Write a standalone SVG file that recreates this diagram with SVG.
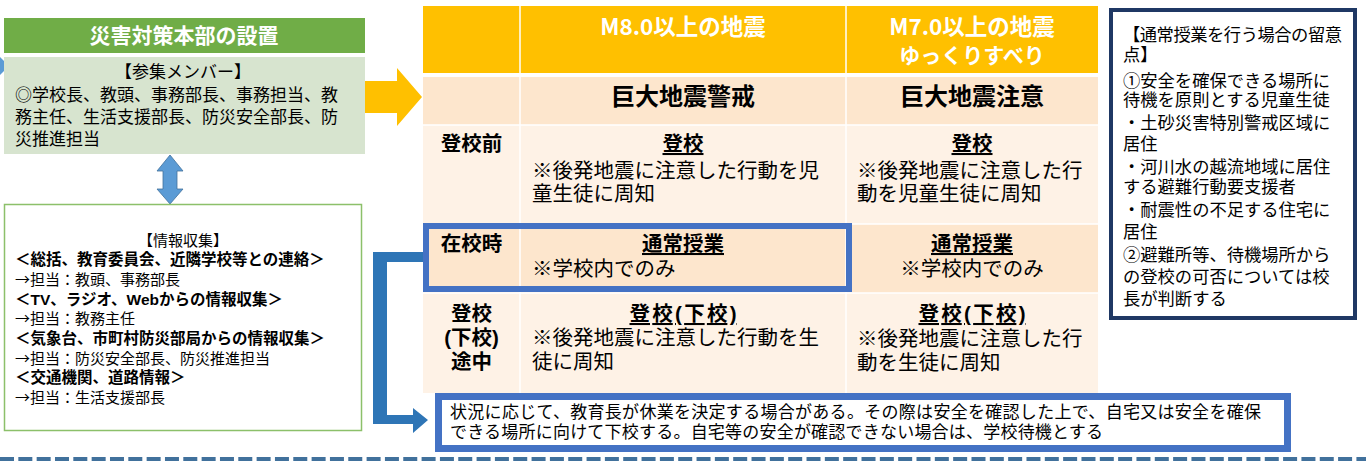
<svg xmlns="http://www.w3.org/2000/svg" width="1366" height="461" viewBox="0 0 1366 461">
<style>
text{font-family:"Liberation Sans","Noto Sans CJK JP",sans-serif;fill:#000}
.jp{font-family:"Noto Sans CJK JP","Liberation Sans",sans-serif}
.b{font-weight:bold}
.w{fill:#fff;font-weight:bold}
.mid{text-anchor:middle}
.u{text-decoration:underline}
.t{font-size:20.5px}
.r{font-size:17.3px}
.i{font-size:15px}
.ib{font-size:15.5px;font-weight:bold}
.hdr{fill:#FFC000}
.pk{fill:#FDE6CD}
.lt{fill:#FEF2E6}
.sep{stroke:#fff;stroke-width:1.5}
</style>
<rect width="1366" height="461" fill="#fff"/>

<g id="connectors">
<polygon points="0,57 9,66 0,75" fill="#5B9BD5"/>
<polygon points="365,81 397,81 397,68 422,97 397,126 397,113 365,113" fill="#FFC000"/>
<polygon points="170,155 183,171 177,171 177,189 183,189 170,204 157,189 163,189 163,171 157,171" fill="#5B9BD5" stroke="#41719C" stroke-width="0.8"/>
<polygon points="373,252 423,252 423,262 387,262 387,415 413,415 413,408 428,420 413,433 413,424 373,424" fill="#2E75B6"/>
<line x1="0" y1="459" x2="1366" y2="459" stroke="#41719C" stroke-width="4" stroke-dasharray="14 4.33"/>
</g>

<g id="honbu">
<rect x="4" y="18" width="361" height="35" fill="#70AD47"/>
<text x="184" y="43" class="w mid" font-size="21">災害対策本部の設置</text>
<rect x="4" y="57" width="361" height="97" fill="#D7E4CF"/>
<text x="183" y="78" class="mid" font-size="17">【参集メンバー】</text>
<text x="15" y="101" font-size="17">◎学校長、教頭、事務部長、事務担当、教</text>
<text x="15" y="123" font-size="17">務主任、生活支援部長、防災安全部長、防</text>
<text x="15" y="145" font-size="17">災推進担当</text>
</g>

<g id="joho">
<rect x="4.5" y="204.5" width="357" height="226" fill="#fff" stroke="#8CC06A" stroke-width="1.5"/>
<text x="183" y="246" class="i mid">【情報収集】</text>
<text x="15" y="265" class="ib jp">＜総括、教育委員会、近隣学校等との連絡＞</text>
<text x="15" y="285" class="i jp">→担当：教頭、事務部長</text>
<text x="15" y="304.5" class="ib">＜TV、ラジオ、Webからの情報収集＞</text>
<text x="15" y="324" class="i jp">→担当：教務主任</text>
<text x="15" y="344" class="ib jp">＜気象台、市町村防災部局からの情報収集＞</text>
<text x="15" y="363.5" class="i jp">→担当：防災安全部長、防災推進担当</text>
<text x="15" y="383" class="ib jp">＜交通機関、道路情報＞</text>
<text x="15" y="402.5" class="i jp">→担当：生活支援部長</text>
</g>

<g id="table">
<rect x="423" y="6" width="675" height="67" class="hdr"/>
<rect x="423" y="77" width="675" height="48" class="pk"/>
<rect x="423" y="125" width="675" height="99" class="lt"/>
<rect x="423" y="224" width="675" height="69" class="pk"/>
<rect x="423" y="293" width="675" height="100" class="lt"/>
<line x1="520" y1="6" x2="520" y2="393" class="sep"/>
<line x1="846" y1="6" x2="846" y2="393" class="sep"/>
<line x1="423" y1="125" x2="1098" y2="125" class="sep"/>
<line x1="423" y1="224" x2="1098" y2="224" class="sep"/>
<line x1="423" y1="293" x2="1098" y2="293" class="sep"/>

<text x="683" y="35" class="w mid jp" font-size="22.5">M8.0以上の地震</text>
<text x="972" y="35" class="w mid jp" font-size="22.5">M7.0以上の地震</text>
<text x="972" y="63" class="w mid jp" font-size="21">ゆっくりすべり</text>

<text x="683" y="105" class="b mid" font-size="24">巨大地震警戒</text>
<text x="972" y="105" class="b mid" font-size="24">巨大地震注意</text>

<text x="471.5" y="151" class="t b mid">登校前</text>
<text x="683" y="151" class="t b mid u">登校</text>
<text x="532" y="178" class="t">※後発地震に注意した行動を児</text>
<text x="532" y="201" class="t">童生徒に周知</text>
<text x="972" y="151" class="t b mid u">登校</text>
<text x="857" y="178" class="t">※後発地震に注意した行</text>
<text x="857" y="201" class="t">動を児童生徒に周知</text>

<text x="471.5" y="251" class="t b mid">在校時</text>
<text x="683" y="251" class="t b mid u">通常授業</text>
<text x="532" y="276" class="t">※学校内でのみ</text>
<text x="972" y="251" class="t b mid u">通常授業</text>
<text x="972" y="276" class="t mid">※学校内でのみ</text>

<text x="471.5" y="321" class="t b mid">登校</text>
<text x="471.5" y="345" class="t b mid">(下校)</text>
<text x="471.5" y="369" class="t b mid">途中</text>
<text x="683" y="321" class="t b mid u" textLength="107" lengthAdjust="spacing">登校(下校)</text>
<text x="532" y="345" class="t">※後発地震に注意した行動を生</text>
<text x="532" y="369" class="t">徒に周知</text>
<text x="972" y="321" class="t b mid u" textLength="107" lengthAdjust="spacing">登校(下校)</text>
<text x="857" y="346" class="t">※後発地震に注意した行</text>
<text x="857" y="370" class="t">動を生徒に周知</text>
</g>

<g id="highlight">
<rect x="426" y="226" width="423" height="63" fill="none" stroke="#4472C4" stroke-width="6"/>
</g>

<g id="note">
<rect x="1111" y="10" width="244" height="308" fill="#fff" stroke="#1F3864" stroke-width="4"/>
<text x="1123" y="41" class="r" textLength="219" lengthAdjust="spacing">【通常授業を行う場合の留意</text>
<text x="1123" y="61" class="r">点】</text>
<text x="1123" y="87" class="r">①安全を確保できる場所に</text>
<text x="1123" y="106" class="r">待機を原則とする児童生徒</text>
<text x="1123" y="129" class="r">・土砂災害特別警戒区域に</text>
<text x="1123" y="150" class="r">居住</text>
<text x="1123" y="173" class="r">・河川水の越流地域に居住</text>
<text x="1123" y="193" class="r">する避難行動要支援者</text>
<text x="1123" y="216" class="r">・耐震性の不足する住宅に</text>
<text x="1123" y="238" class="r">居住</text>
<text x="1123" y="261" class="r">②避難所等、待機場所から</text>
<text x="1123" y="283" class="r">の登校の可否については校</text>
<text x="1123" y="305" class="r">長が判断する</text>
</g>

<g id="kyugyo">
<rect x="438.5" y="396.5" width="849" height="52" fill="#fff" stroke="#4472C4" stroke-width="7"/>
<text x="450" y="418" font-size="17" textLength="811" lengthAdjust="spacing">状況に応じて、教育長が休業を決定する場合がある。その際は安全を確認した上で、自宅又は安全を確保</text>
<text x="450" y="438" font-size="17" textLength="653" lengthAdjust="spacing">できる場所に向けて下校する。自宅等の安全が確認できない場合は、学校待機とする</text>
</g>
</svg>
